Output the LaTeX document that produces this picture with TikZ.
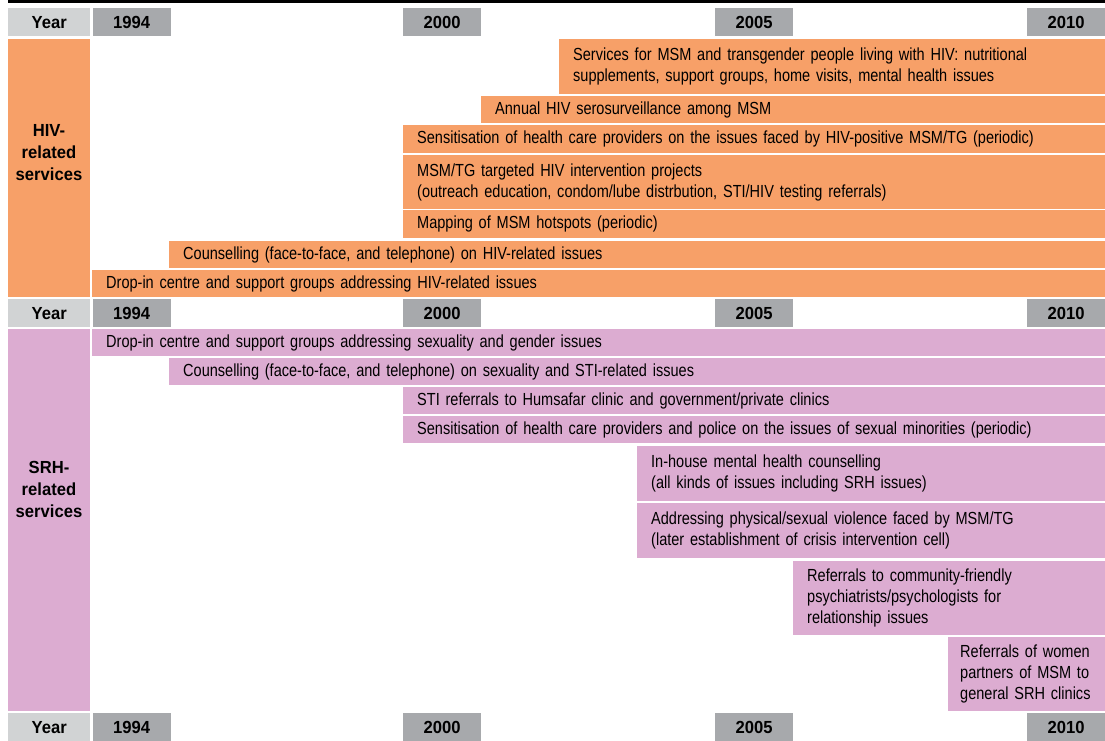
\documentclass[tikz,border=0pt]{standalone}
\usepackage{fontspec}
\setmainfont{Liberation Sans}[FakeStretch=0.83, BoldFeatures={FakeStretch=0.95}]
\usepackage{xcolor}
\usetikzlibrary{positioning}

\definecolor{hivorange}{RGB}{247,160,104}
\definecolor{srhpink}{RGB}{220,172,209}
\definecolor{yearlight}{RGB}{209,211,212}
\definecolor{yeardark}{RGB}{167,169,172}

\begin{document}
\begin{tikzpicture}[
x=1pt, y=-1pt,
every node/.style={font=\fontsize{17.5}{21}\selectfont},
bar/.style={
	rectangle,
	anchor=north west,
	inner xsep=14pt,
	inner ysep=0pt,
	align=left
},
hivbar/.style={bar, fill=hivorange},
srhbar/.style={bar, fill=srhpink},
yearcell/.style={
	rectangle,
	anchor=north west,
	fill=yearlight,
	inner sep=0pt,
	minimum width=82pt,
	minimum height=28pt,
	font=\fontsize{17.5}{21}\selectfont\bfseries
},
yearbox/.style={
	yearcell,
	fill=yeardark,
	minimum width=78pt
},
sidecell/.style={
	rectangle,
	anchor=north west,
	inner sep=0pt,
	minimum width=82pt
},
sidelabel/.style={
	align=center,
	font=\fontsize{17.5}{22}\selectfont\bfseries
}
]
\useasboundingbox (0,0) rectangle (1105,740);

% top rule
\fill[black] (8,0) rectangle (1105,3);

% year row (top)
\node[yearcell] (yearA) at (8,8) {Year};
\node[yearbox, right=2pt of yearA.north east, anchor=north west] (y94A) {1994};
\node[yearbox] (y00A) at (403,8) {2000};
\node[yearbox] (y05A) at (715,8) {2005};
\node[yearbox] (y10A) at (1027,8) {2010};

% HIV-related services
\node[sidecell, fill=hivorange, minimum height=258pt] (hivcell) at (8,39) {};
\node[sidelabel] (hivlabel) at (49,153) {HIV-\\related\\services};

\node[hivbar, text width=518pt, minimum height=55pt] (hivcare) at (559,39) {
	Services for MSM and transgender people living with HIV: nutritional\\
	supplements, support groups, home visits, mental health issues
};
\node[hivbar, text width=596pt, minimum height=27pt] (serosurv) at (481,96) {
	Annual HIV serosurveillance among MSM
};
\node[hivbar, text width=674pt, minimum height=28pt] (hivsens) at (403,125) {
	Sensitisation of health care providers on the issues faced by HIV-positive MSM/TG (periodic)
};
\node[hivbar, text width=674pt, minimum height=54pt] (targeted) at (403,155) {
	MSM/TG targeted HIV intervention projects\\
	(outreach education, condom/lube distrbution, STI/HIV testing referrals)
};
\node[hivbar, text width=674pt, minimum height=28pt] (mapping) at (403,210) {
	Mapping of MSM hotspots (periodic)
};
\node[hivbar, text width=908pt, minimum height=27pt] (hivcounsel) at (169,241) {
	Counselling (face-to-face, and telephone) on HIV-related issues
};
\node[hivbar, text width=985pt, minimum height=27pt] (hivdropin) at (92,270) {
	Drop-in centre and support groups addressing HIV-related issues
};

% year row (middle)
\node[yearcell] (yearB) at (8,299) {Year};
\node[yearbox, right=2pt of yearB.north east, anchor=north west] (y94B) {1994};
\node[yearbox] (y00B) at (403,299) {2000};
\node[yearbox] (y05B) at (715,299) {2005};
\node[yearbox] (y10B) at (1027,299) {2010};

% SRH-related services
\node[sidecell, fill=srhpink, minimum height=382pt] (srhcell) at (8,329) {};
\node[sidelabel] (srhlabel) at (49,489) {SRH-\\related\\services};

\node[srhbar, text width=985pt, minimum height=27pt] (srhdropin) at (92,329) {
	Drop-in centre and support groups addressing sexuality and gender issues
};
\node[srhbar, text width=908pt, minimum height=27pt] (srhcounsel) at (169,358) {
	Counselling (face-to-face, and telephone) on sexuality and STI-related issues
};
\node[srhbar, text width=674pt, minimum height=27pt] (stiref) at (403,387) {
	STI referrals to Humsafar clinic and government/private clinics
};
\node[srhbar, text width=674pt, minimum height=27pt] (srhsens) at (403,416) {
	Sensitisation of health care providers and police on the issues of sexual minorities (periodic)
};
\node[srhbar, text width=440pt, minimum height=55pt] (mental) at (637,446) {
	In-house mental health counselling\\
	(all kinds of issues including SRH issues)
};
\node[srhbar, text width=440pt, minimum height=55pt] (violence) at (637,503) {
	Addressing physical/sexual violence faced by MSM/TG\\
	(later establishment of crisis intervention cell)
};
\node[srhbar, text width=284pt, minimum height=74pt] (psych) at (793,561) {
	Referrals to community-friendly\\
	psychiatrists/psychologists for\\
	relationship issues
};
\node[srhbar, inner xsep=12pt, text width=133pt, minimum height=74pt] (women) at (948,637) {
	Referrals of women\\
	partners of MSM to\\
	general SRH clinics
};

% year row (bottom)
\node[yearcell] (yearC) at (8,713) {Year};
\node[yearbox, right=2pt of yearC.north east, anchor=north west] (y94C) {1994};
\node[yearbox] (y00C) at (403,713) {2000};
\node[yearbox] (y05C) at (715,713) {2005};
\node[yearbox] (y10C) at (1027,713) {2010};

\end{tikzpicture}
\end{document}
